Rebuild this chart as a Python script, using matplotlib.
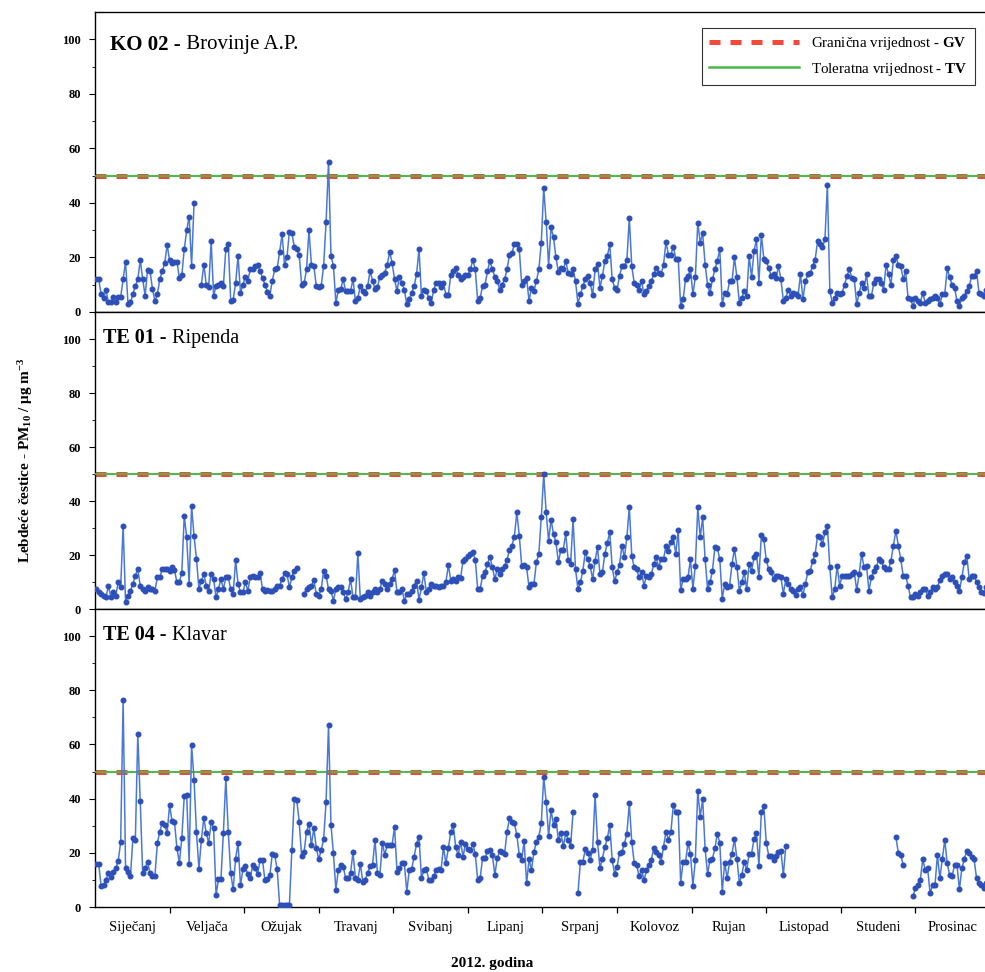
import numpy as np
import matplotlib
matplotlib.use("Agg")
import matplotlib.pyplot as plt
from matplotlib.lines import Line2D

plt.rcParams['font.family'] = ['Liberation Serif', 'DejaVu Serif']
plt.rcParams['mathtext.fontset'] = 'custom'
plt.rcParams['mathtext.rm'] = 'Liberation Serif'
plt.rcParams['mathtext.bf'] = 'Liberation Serif:bold'
plt.rcParams['mathtext.it'] = 'Liberation Serif:italic'

# Months of 2012 (x axis categories)
months = ["Siječanj", "Veljača", "Ožujak", "Travanj", "Svibanj", "Lipanj",
          "Srpanj", "Kolovoz", "Rujan", "Listopad", "Studeni", "Prosinac"]

# Daily limit for PM10 (limit value and tolerance value)
limit_gv = 50
limit_tv = 50

station_codes = ["KO 02", "TE 01", "TE 04"]
station_names = ["Brovinje A.P.", "Ripenda", "Klavar"]

N = None  # missing daily measurement

# Daily PM10 concentrations (µg/m3), one row per month
ko02 = [
    12, 12, 6.5, 5, 8, 3.5, 3.5, 5.5, 3.5, 5.5, 5.5, 12, 18.5, 3, 3.5, 6.5, 9.5, 12, 19, 12, 6, 15.5, 15, 8.5, 4, 6.5, 12, 15, 18, 24.5, 19,
    18, 18.5, 18.5, 12.5, 13.5, 23, 30, 35, 17, 40, N, N, 10, 17.4, 10, 9, 26, 6, 9.5, 10, 10.5, 9.5, 23, 25, 4, 4.5, 10.5, 20.5, 7,
    10, 13, 11.5, 15.6, 15.6, 17, 17.4, 15, 12.5, 10, 7.5, 6, 11.5, 15.6, 16, 22, 28.5, 17.4, 20, 29.5, 29, 24, 23, 21, 10, 10.5, 15.6, 30, 17.4, 16.8, 9.5,
    9, 9.5, 17, 33, 55, 20.5, 17, 3.4, 8, 8.5, 12, 7.7, 7.7, 7.7, 12, 4, 5.2, 9.5, 7.7, 7, 9.5, 15, 11.5, 8.5, 9, 13, 13.6, 14.4, 17.4, 22,
    18, 12, 7.7, 13, 10.6, 8.2, 2.8, 4.6, 7, 9.5, 13.8, 23, 5.8, 8.2, 7.7, 5.2, 3.4, 8.2, 10.6, 10.6, 9, 10.6, 6.3, 6.3, 13.6, 15, 16, 13.6, 12, 13, 13.6,
    13.6, 15.6, 19, 15.6, 4, 5.2, 9.5, 10, 15, 18.7, 15.6, 13, 11.3, 8.2, 10, 12, 15.6, 21, 21.6, 25, 25, 23, 10, 11.3, 12.5, 4, 8.9, 7.7, 11.3, 15.6,
    25.4, 45.5, 33, 17, 31, 27.4, 20, 14.6, 16.2, 15.6, 18.7, 14.4, 13.8, 15.6, 11.3, 3, 6.5, 9.5, 12, 13.2, 10.7, 6.2, 15.6, 17.7, 8.9, 13.2, 18.7, 20.5, 24.8, 12, 8.9,
    8.2, 13.2, 16.8, 16.8, 18.9, 34.5, 16.8, 10.7, 10, 8.2, 11.3, 6.5, 7.7, 9.5, 11.3, 13.8, 16.2, 14.4, 13.8, 17.4, 25.7, 21, 21, 24, 19.5, 19.5, 2.2, 4.6, 12, 13.2, 15.6,
    6.5, 12.7, 32.7, 25.4, 29, 17.4, 10, 7, 12, 15.6, 18.7, 23, 2.8, 7, 6.5, 11.3, 11.3, 20, 12.7, 3.4, 5.2, 7.7, 5.8, 20.5, 12.7, 22.5, 26.6, 10.7, 28.4, 19.5,
    18.7, 16.2, 13.2, 13.8, 12.5, 16.8, 12, 4, 5.2, 8.2, 5.8, 7, 6.5, 5.8, 13.8, 4.6, 11.3, 13.8, 14.4, 16.8, 19.2, 26, 24.8, 23.7, 26.6, 46.7, 7.7, 3.4, 5.2, 7, 6.5,
    7, 10, 13.2, 15.6, 12.5, 12, 2.8, 7, 10.7, 8.9, 13.8, 5.8, 5.8, 10.7, 12, 12, 10.7, 8.2, 17.4, 13.8, 10, 19.2, 20.5, 17.4, 16.8, 12, 15, 5.2, 4.6, 2.2,
    5.2, 4, 3.4, 7, 3.4, 4, 4.6, 5.2, 5.8, 5.2, 2.8, 6.5, 6.5, 16, 12.7, 10, 8.9, 4, 2.2, 5.2, 5.8, 7.7, 9.5, 13.2, 13.2, 15, 7, 6.5, 6, 8, 5,
]

te01 = [
    7.4, 6.2, 5.6, 5, 4.3, 8.6, 4.3, 6.2, 5, 9.9, 8, 30.9, 2.5, 5, 6.8, 9.3, 12.3, 14.8, 8.6, 7.4, 6.8, 8, 7.4, 7.4, 6.8, 11.7, 11.7, 14.8, 14.8, 14.8, 14.2,
    15.7, 14.4, 9.9, 9.9, 13.5, 34.6, 26.5, 9.3, 38.3, 27, 18.5, 7.4, 10.5, 13, 8.6, 6.8, 13, 11.1, 4.3, 7.4, 11.1, 7.4, 11.7, 11.7, 7.4, 5.6, 18.1, 9.3, 6.2,
    6.2, 9.9, 6.8, 11.7, 12.3, 11.7, 11.7, 13.5, 7.4, 6.8, 7, 6.8, 6.8, 7.4, 8.6, 8.6, 11.1, 13.2, 13, 8, 11.7, 14.2, 15.2, N, N, 5.6, 7.4, 8, 8.6, 10.7, 5.6,
    5, 7.4, 14.2, 12.3, 7.4, 6.8, 3.1, 7.4, 8, 8, 6.2, 3.7, 6.2, 11.1, 4.3, 4.3, 20.6, 3.7, 4.3, 5, 6.2, 5, 6.2, 7.4, 6.2, 7.4, 10.5, 9.3, 7.4, 9.3,
    11.1, 14.4, 6.2, 6.2, 7.4, 3.1, 5.6, 5.6, 6.8, 8.6, 10.5, 3.4, 8, 13.3, 6.2, 7.4, 9.3, 8.6, 8.6, 8, 8.6, 8.6, 9.9, 16.3, 10.5, 11.1, 10.5, 11.7, 11.4, 17.9, 18.5,
    19.8, 20.4, 21, 18.2, 7.4, 7.4, 12.3, 13.6, 16.7, 19.4, 15.4, 11.1, 14.8, 13, 14.8, 16, 18.2, 21.9, 23.5, 26.8, 35.8, 27.2, 16, 16.3, 15.4, 8, 9.3, 9.3, 17.3, 20.4,
    34, 50, 35.8, 25.3, 33, 27.8, 24.8, 17.3, 21.9, 21.9, 28, 18.2, 16.7, 33.3, 14.8, 7.4, 9.9, 14.2, 21, 18.5, 16, 11.1, 17.9, 22.8, 13, 13.6, 20.4, 24.4, 28.6, 15.4, 10.2,
    13.6, 16.4, 23.5, 19.1, 26.5, 37.7, 19.8, 15.4, 14.8, 11.7, 13.6, 8.6, 12.3, 11.9, 12.9, 16.7, 19.1, 15.4, 18.5, 18.5, 23.5, 21.6, 24.7, 26.5, 20.4, 29.3, 7, 11.1, 11.1, 11.7, 18.5,
    7.4, 16, 37.7, 26.5, 34, 18.5, 7.4, 9.9, 14.2, 22.8, 22.5, 18.5, 3.7, 9.3, 8, 8.6, 16.7, 22.2, 15.7, 6.8, 9.9, 13.6, 7.4, 16.7, 14.2, 19.1, 20.4, 11.7, 27.5, 25.9,
    18.1, 14.8, 13.6, 11.1, 12.3, 12.3, 11.7, 5.6, 11.1, 9.3, 7.4, 6.8, 5.3, 7.4, 8, 5.3, 9.3, 13.6, 14.2, 17.9, 20.4, 27.2, 26.5, 24, 28.4, 30.9, 15.4, 4.3, 7.4, 16, 8.6,
    12.3, 12.3, 12.3, 12.3, 13, 13.6, 7, 13, 20.4, 15.4, 16, 6.8, 11.7, 14.2, 15.4, 18.5, 17.9, 15.4, 14.8, 14.8, 17.9, 23.5, 29, 23.5, 18.5, 12.3, 12.3, 8.6, 4.3, 4.3,
    5.6, 5, 6.2, 7.4, 7.4, 5, 6.2, 8, 7.4, 8, 10.7, 12.3, 13, 13, 11.1, 11.7, 9.9, 8.6, 6.8, 11.7, 17.3, 19.8, 11.1, 12.3, 12.3, 9.9, 8, 6.2, 6, 8, 6,
]

te04 = [
    15.9, 15.9, 7.8, 8, 10, 12.7, 11, 13.1, 14.3, 17, 24, 76.5, 14.3, 13.1, 11.5, 25.4, 24.8, 63.9, 39, 12.5, 14.3, 16.7, 12.5, 11.5, 11.5, 23.6, 27.8, 31, 30.4, 27.3, 37.7,
    31.7, 31.5, 21.7, 16.4, 25.4, 41, 41.4, 15.9, 59.9, 46.9, 27.8, 14, 24.8, 32.8, 27.3, 23.6, 31.3, 29.2, 4.4, 10.2, 10.2, 27.3, 47.5, 27.8, 12.5, 6.5, 17.9, 23.6, 8.1,
    13.9, 15, 12, 10.6, 15.5, 14.3, 12.3, 17.2, 17.2, 9.9, 10.5, 11.7, 19.5, 19.1, 13.9, 0.8, 0.8, 0.8, 0.8, 0.8, 21, 39.8, 39.5, 31.5, 18.7, 20.2, 27.8, 30.8, 22.9, 29.2, 21.7,
    17.6, 21, 25, 38.9, 67.2, 30.3, 19.8, 6.3, 13.7, 15.5, 14.9, 10.6, 10.6, 12.5, 20.2, 10.6, 10, 15.9, 9.4, 10, 12.5, 15.2, 15.5, 24.8, 12.5, 11.8, 23.6, 19.3, 22.9, 22.9,
    22.9, 29.7, 13.1, 14.3, 16.1, 16.1, 5.7, 13.5, 14.1, 18.5, 23.4, 26, 10.6, 13.5, 14.1, 10, 10, 11.3, 13.8, 14.1, 13.5, 22.2, 16.1, 21.7, 27.8, 30.3, 22.2, 19.1, 24, 18.5, 23.4,
    21.5, 20.9, 23.4, 19.7, 10, 10.6, 18.1, 18.1, 20.5, 21.1, 19.3, 11.8, 18.1, 20.5, 20.2, 19.7, 27.8, 32.8, 31.5, 30.9, 26.6, 19.3, 17.5, 24.3, 8.7, 17.6, 13.7, 20.4, 24, 26,
    30.9, 48, 38.9, 26.2, 35.8, 30.3, 32.4, 24.8, 27.3, 22.4, 27.3, 24.8, 22.4, 35.2, N, 5, 16.7, 16.7, 21.3, 20.1, 17.4, 21.1, 41.4, 24.1, 14.3, 17.9, 22.2, 25.3, 30.3, 17.4, 12.2,
    14.9, 20.1, 20.4, 23.4, 27.1, 38.3, 24.1, 16.4, 15.5, 11.3, 13.8, 9.9, 13.5, 15.5, 17.4, 21.7, 20.4, 19.2, 16.7, 22.2, 27.8, 24.8, 27.6, 37.7, 35.2, 35.2, 9, 16.7, 16.7, 23.6, 19.7,
    7.8, 17.4, 43, 33.3, 39.8, 21.3, 12.2, 17.4, 17.9, 21.6, 27.1, 23.6, 5.7, 16.4, 10.6, 16.7, 19.7, 25.1, 17.9, 9, 11.8, 16.7, 13.5, 19.7, 19.7, 25.1, 27.3, 15.2, 34.9, 37.3,
    23.8, 19, 18.7, 17.4, 19, 20.2, 20.6, 11.8, 22.5, N, N, N, N, N, N, N, N, N, N, N, N, N, N, N, N, N, N, N, N, N, N,
    N, N, N, N, N, N, N, N, N, N, N, N, N, N, N, N, N, N, N, N, N, N, 26, 20, 19.2, 15.5, N, N, N, 4,
    6.9, 8.1, 10, 17.6, 13.7, 14.3, 5, 8.1, 8.1, 19.2, 10.6, 17.6, 24.8, 16.1, 11.8, 11.3, 15.5, 15.5, 6.5, 14.3, 17.6, 20.8, 20.1, 18.6, 17.6, 10.6, 9, 8.1, 7, 9, 7,
]

series = [ko02, te01, te04]

# ---------------------------------------------------------------- figure
W_PX, H_PX = 985, 972
fig = plt.figure(figsize=(W_PX / 100, H_PX / 100), dpi=100)

left_px, right_px = 95, 990
rows_px = [(12, 312), (312, 609), (609, 907)]

LINE_BLUE = "#4a78d8"
MARK_BLUE = "#2d4fb8"
RED = "#f2493a"
GREEN = "#4cb84a"

n_days = 366
day_pos = np.arange(n_days) + 0.5
month_edges = np.arange(1, 12) * (n_days / 12)
month_mids = (np.arange(12) + 0.5) * (n_days / 12)

axes = []
for i, (top, bot) in enumerate(rows_px):
    ax = fig.add_axes([left_px / W_PX, 1 - bot / H_PX,
                       (right_px - left_px) / W_PX, (bot - top) / H_PX])
    axes.append(ax)
    vals = np.array([np.nan if v is None else v for v in series[i]], dtype=float)

    ax.axhline(limit_gv, color=RED, lw=3.6, dashes=(2.2, 2.0), zorder=2)
    ax.axhline(limit_tv, color=GREEN, lw=1.4, zorder=3)

    ax.plot(day_pos, vals, color=LINE_BLUE, lw=1.1, zorder=4)
    ax.plot(day_pos, vals, ls="none", marker="o", ms=3.3,
            mfc=MARK_BLUE, mec=MARK_BLUE, zorder=5)

    ax.set_xlim(0, n_days)
    ax.set_ylim(0, 110)
    ax.set_yticks(np.arange(0, 101, 20))
    ax.set_yticks(np.arange(0, 101, 10), minor=True)
    ax.tick_params(axis="y", which="major", direction="out", length=4,
                   width=0.8, labelsize=9, pad=6)
    ax.tick_params(axis="y", which="minor", direction="out", length=2, width=0.6)
    for lab in ax.get_yticklabels():
        lab.set_fontweight("bold")

    ax.set_xticks(month_edges)
    ax.set_xticks(month_mids, minor=True)
    ax.tick_params(axis="x", which="major", direction="out", length=4,
                   width=0.9, labelbottom=False)
    ax.tick_params(axis="x", which="minor", length=0)
    if i == 2:
        ax.set_xticklabels(months, minor=True)
        ax.tick_params(axis="x", which="minor", labelsize=10.5, pad=10)
    else:
        ax.tick_params(axis="x", which="minor", labelbottom=False)

    for side in ("left", "bottom", "top"):
        ax.spines[side].set_linewidth(1.0)
    ax.spines["right"].set_visible(False)

    # station heading: bold code, regular name
    tx = 0.017 if i == 0 else 0.009
    ty = 0.89 if i == 0 else 0.912
    fs = 15 if i == 0 else 14.5
    t_code = ax.text(tx, ty, station_codes[i] + " -", transform=ax.transAxes,
                     fontsize=fs, fontweight="bold", va="center", ha="left")
    ax.annotate(" " + station_names[i], xy=(1, 0.5), xycoords=t_code,
                fontsize=fs, va="center", ha="left")

# legend in the top panel
handles = [
    Line2D([], [], color=RED, lw=3.6, dashes=(2.2, 2.0)),
    Line2D([], [], color=GREEN, lw=1.8),
]
labels = [r"Granična vrijednost - $\mathbf{GV}$",
          r"Toleratna vrijednost - $\mathbf{TV}$"]
leg = axes[0].legend(handles, labels, loc="upper right",
                     bbox_to_anchor=((975 - left_px) / (right_px - left_px),
                                     (312 - 28) / 300),
                     borderaxespad=0, fontsize=10.8, handlelength=6.0,
                     handletextpad=0.8, labelspacing=0.55, frameon=True,
                     fancybox=False, edgecolor="black", borderpad=0.5)
leg.get_frame().set_linewidth(0.8)

fig.text(26 / W_PX, 1 - 460 / H_PX,
         r"Lebdeće čestice - PM$_{\mathbf{10}}$ / μg m$^{\mathbf{-3}}$",
         rotation=90, ha="center", va="center", fontsize=11, fontweight="bold")
fig.text(492 / W_PX, 1 - 963 / H_PX, "2012. godina", ha="center",
         va="center", fontsize=11, fontweight="bold")

fig.savefig("out.png", dpi=100)
